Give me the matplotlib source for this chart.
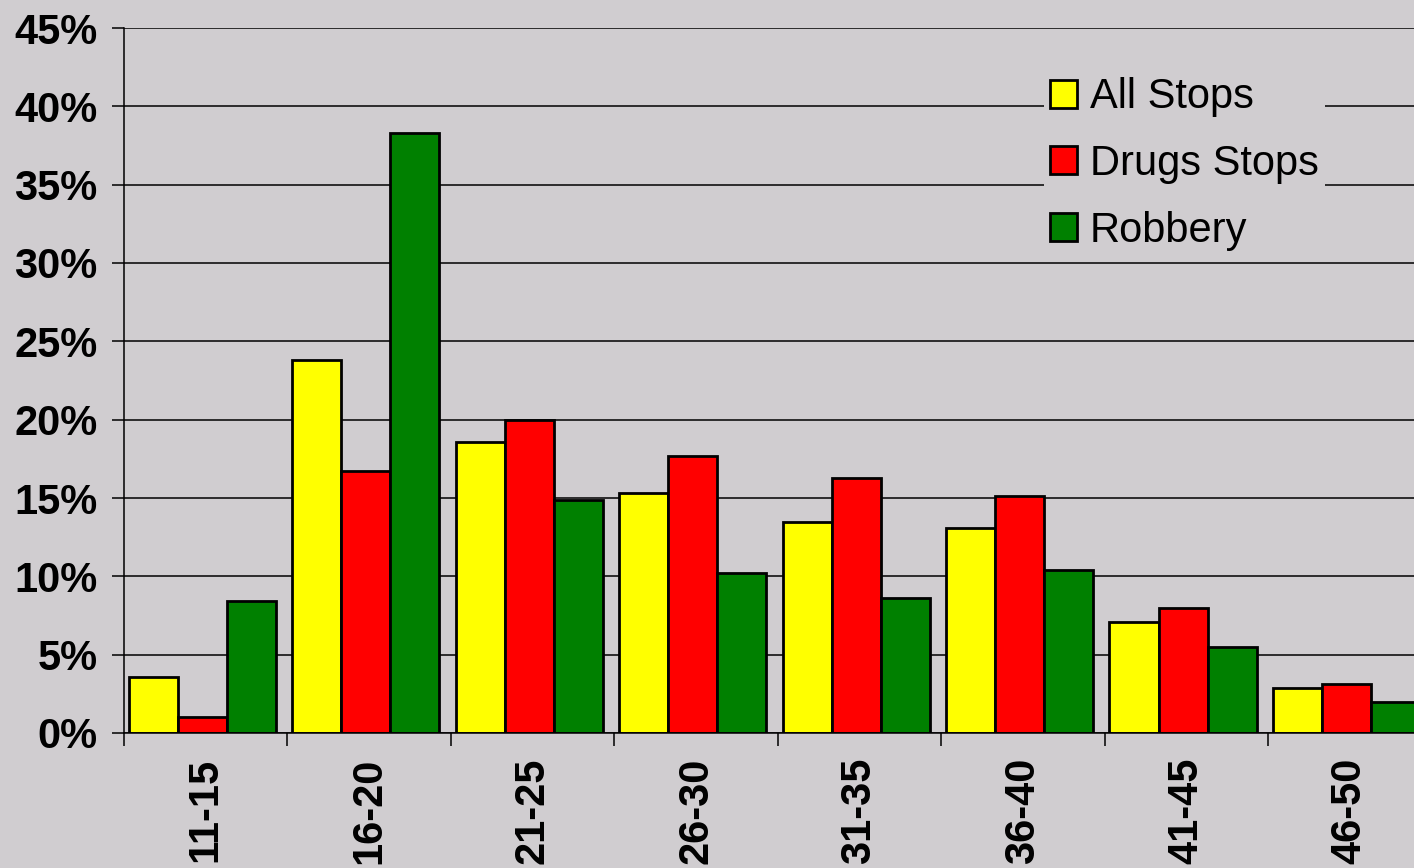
import numpy as np
import matplotlib.pyplot as plt
from matplotlib.ticker import FixedLocator, FuncFormatter

plt.rcParams['font.family'] = ['Liberation Sans', 'DejaVu Sans']

# age bands and share of stops (%)
ages = ['11-15', '16-20', '21-25', '26-30', '31-35', '36-40', '41-45', '46-50']
all_stops = [3.6, 23.8, 18.6, 15.3, 13.5, 13.1, 7.1, 2.9]
drugs_stops = [1.0, 16.7, 20.0, 17.7, 16.3, 15.1, 8.0, 3.1]
robbery = [8.4, 38.3, 14.9, 10.2, 8.6, 10.4, 5.5, 2.0]

bg = '#d0cdd0'
fig = plt.figure(figsize=(14.14, 8.68), dpi=100, facecolor=bg)
ax = fig.add_axes([124 / 1414, 135 / 868, 1290 / 1414, 705 / 868])
ax.set_facecolor(bg)

x = np.arange(len(ages))
w = 0.3
series = [(all_stops, '#ffff00', 'All Stops'),
          (drugs_stops, '#ff0000', 'Drugs Stops'),
          (robbery, '#008000', 'Robbery')]
for i, (vals, col, lab) in enumerate(series):
    ax.bar(x + (i - 1) * w - 0.02, vals, w, color=col, edgecolor='black',
           linewidth=2, label=lab, zorder=3)

ax.set_ylim(0, 45)
ax.set_xlim(-0.5, -0.5 + 1290 / 163.43)
ax.set_yticks(np.arange(0, 46, 5))
ax.yaxis.set_major_formatter(FuncFormatter(lambda v, p: f'{v:.0f}%'))
ax.grid(axis='y', color='black', linewidth=1.1, zorder=1)

ax.set_xticks(x)
ax.set_xticklabels(ages, rotation=90, fontsize=30, fontweight='bold', va='top')
ax.xaxis.set_minor_locator(FixedLocator(np.arange(-0.5, 8, 1)))
ax.tick_params(axis='x', which='major', length=0, pad=18)
ax.tick_params(axis='x', which='minor', length=9, width=1.1, direction='out')
ax.tick_params(axis='y', length=9, width=1.1, labelsize=30, pad=10)
for t in ax.get_yticklabels():
    t.set_fontweight('bold')

for s in ['top', 'right']:
    ax.spines[s].set_visible(False)
for s in ['left', 'bottom']:
    ax.spines[s].set_linewidth(1.1)
    ax.spines[s].set_zorder(4)

leg = ax.legend(loc='upper left', bbox_to_anchor=(1044 / 1414, 1 - 71 / 868),
                bbox_transform=fig.transFigure, fontsize=30, frameon=True,
                facecolor=bg, edgecolor='none', framealpha=1, fancybox=False,
                handlelength=0.65, handleheight=0.65, handletextpad=0.3,
                labelspacing=0.64, borderpad=0.15, borderaxespad=0)
leg.set_zorder(5)

fig.savefig('out.png', dpi=100, facecolor=bg)
